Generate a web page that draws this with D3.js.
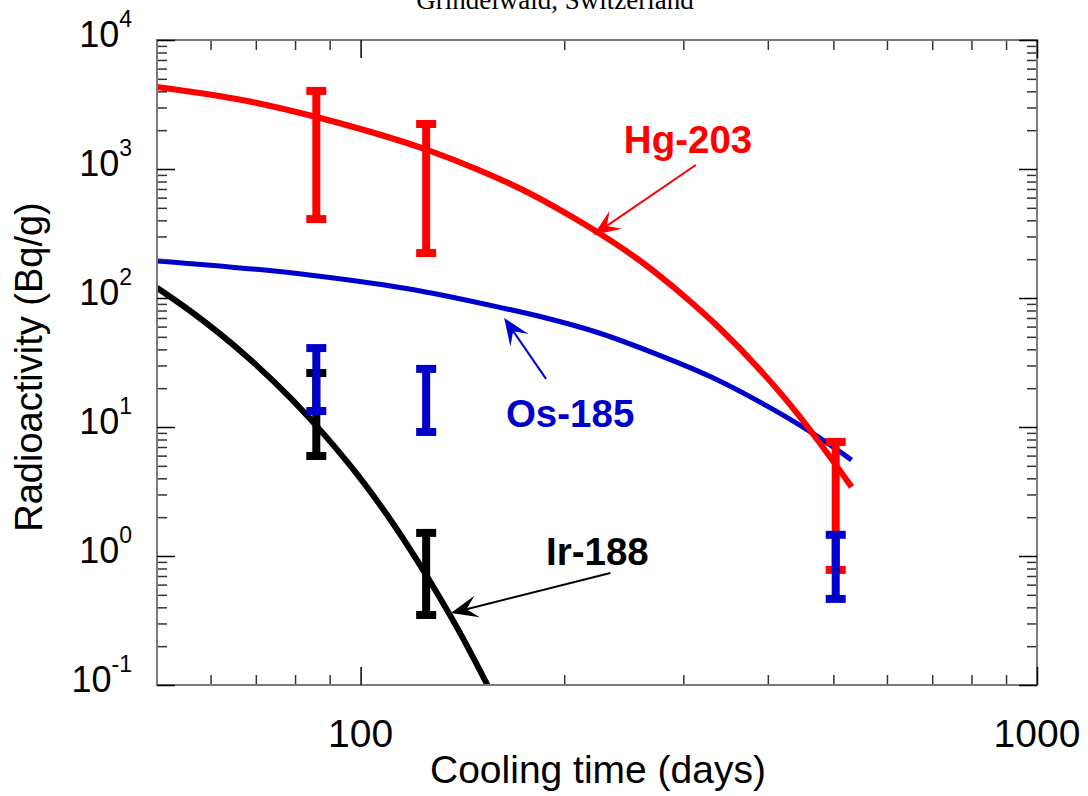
<!DOCTYPE html>
<html>
<head>
<meta charset="utf-8">
<script src="https://cdn.jsdelivr.net/npm/d3@7"></script>
<style>
    body { margin: 0; background: #fff; }
    svg { display: block; font-family: Arial, "Liberation Sans", Helvetica, sans-serif; }
</style>
</head>
<body>
<svg id="chart" width="1088" height="796"></svg>
<script>
// === DATA ===

const TITLE = 'Grindelwald, Switzerland';
const X_LABEL = 'Cooling time (days)';
const Y_LABEL = 'Radioactivity (Bq/g)';

const X_TICKS = [100, 1000];
const X_TICK_LABELS = ['100', '1000'];
const Y_TICKS = [0.1, 1, 10, 100, 1000, 10000];
const Y_TICK_EXPONENTS = ['-1', '0', '1', '2', '3', '4'];

// calculated decay curves
const HG_DAYS = [50, 68, 86, 100, 125.6, 149.5, 175, 198, 225, 258, 303, 338, 392, 445, 492, 532];
const HG_ACT  = [4330, 3365, 2530, 2042, 1403, 982, 675, 476, 319, 197, 100, 59.6, 26.7, 12.2, 6.07, 3.43];

const OS_DAYS = [50, 84, 121, 160, 188, 223, 269, 330, 392, 465, 532];
const OS_ACT  = [194, 151, 115, 85, 70, 54.5, 38.1, 24.4, 15.3, 9.0, 5.55];

const IR_DAYS = [50, 56, 68, 79, 89, 99, 111, 125, 140, 154];
const IR_ACT  = [120, 79.3, 34.9, 16.5, 8.35, 4.25, 1.87, 0.713, 0.258, 0.1];

// measured ranges (error bars)
const HG_BAR_DAYS = [86, 125, 504];
const HG_LOW  = [409, 223, 0.78];
const HG_HIGH = [4030, 2234, 7.66];

const IR_BAR_DAYS = [86, 125];
const IR_LOW  = [5.96, 0.349];
const IR_HIGH = [26.2, 1.51];

const OS_BAR_DAYS = [86, 125, 504];
const OS_LOW  = [13.3, 9.15, 0.465];
const OS_HIGH = [40.9, 28.2, 1.46];

// annotations (data coordinates)
const LABELS     = ['Hg-203', 'Os-185', 'Ir-188'];
const LABEL_AT   = [[245, 1331], [164, 10.0], [188, 0.851]];
const ARROW_FROM = [[313, 1074], [188, 23.6], [234, 0.738]];
const ARROW_TO   = [[221, 308], [163, 70], [136, 0.361]];

// === LAYOUT ===

const COLORS = { hg: '#ff0000', os: '#0000cc', ir: '#000000' };
const plot = { left: 157, right: 1037, top: 40, bottom: 685 };

const svg = d3.select('#chart');

const x = d3.scaleLog().domain([50, 1000]).range([plot.left, plot.right]);
const y = d3.scaleLog().domain([0.1, 10000]).range([plot.bottom, plot.top]);

// === TITLE ===

svg.append('text')
    .attr('x', 555)
    .attr('y', 9)
    .attr('text-anchor', 'middle')
    .style('font-family', '"Liberation Serif", "Times New Roman", serif')
    .style('font-size', '27px')
    .text(TITLE);

// === CURVES ===

svg.append('clipPath').attr('id', 'clip')
    .append('rect')
    .attr('x', plot.left).attr('y', plot.top)
    .attr('width', plot.right - plot.left)
    .attr('height', plot.bottom - plot.top);

const curves = svg.append('g').attr('clip-path', 'url(#clip)');

const line = d3.line()
    .x(d => x(d[0]))
    .y(d => y(d[1]))
    .curve(d3.curveMonotoneX);

[
    { days: IR_DAYS, act: IR_ACT, color: COLORS.ir, w: 6 },
    { days: OS_DAYS, act: OS_ACT, color: COLORS.os, w: 5 },
    { days: HG_DAYS, act: HG_ACT, color: COLORS.hg, w: 6 }
].forEach(s => {
    curves.append('path')
        .datum(d3.zip(s.days, s.act))
        .attr('d', line)
        .attr('fill', 'none')
        .attr('stroke', s.color)
        .attr('stroke-width', s.w);
});

// === ERROR BARS ===

function drawBars(days, low, high, color) {
    const g = svg.append('g').attr('fill', color);
    const rows = d3.zip(days, low, high);
    g.selectAll('.stem')
        .data(rows)
        .join('rect')
        .attr('x', d => x(d[0]) - 4)
        .attr('y', d => y(d[2]))
        .attr('width', 8)
        .attr('height', d => y(d[1]) - y(d[2]));
    g.selectAll('.cap')
        .data(rows.flatMap(d => [[d[0], d[1]], [d[0], d[2]]]))
        .join('rect')
        .attr('x', d => x(d[0]) - 10)
        .attr('y', d => y(d[1]) - 4)
        .attr('width', 20)
        .attr('height', 8);
}

drawBars(HG_BAR_DAYS, HG_LOW, HG_HIGH, COLORS.hg);
drawBars(IR_BAR_DAYS, IR_LOW, IR_HIGH, COLORS.ir);
drawBars(OS_BAR_DAYS, OS_LOW, OS_HIGH, COLORS.os);

// === AXES (ticks inside, on all four sides) ===

const majorY = Y_TICKS;
const minorY = y.ticks().filter(v => !majorY.includes(v));
const majorX = X_TICKS;
const minorX = x.ticks().filter(v => !majorX.includes(v) && v > 50);

function styleAxis(sel, color) {
    sel.select('.domain').remove();
    sel.selectAll('.tick text').remove();
    sel.selectAll('.tick line').attr('stroke', color).attr('stroke-width', 1.5);
}

svg.append('g').attr('transform', `translate(${plot.left},0)`)
    .call(d3.axisLeft(y).tickValues(minorY).tickSize(-10)).call(styleAxis, '#333');
svg.append('g').attr('transform', `translate(${plot.right},0)`)
    .call(d3.axisRight(y).tickValues(minorY).tickSize(-10)).call(styleAxis, '#333');
svg.append('g').attr('transform', `translate(0,${plot.bottom})`)
    .call(d3.axisBottom(x).tickValues(minorX).tickSize(-10)).call(styleAxis, '#333');
svg.append('g').attr('transform', `translate(0,${plot.top})`)
    .call(d3.axisTop(x).tickValues(minorX).tickSize(-10)).call(styleAxis, '#333');

// frame
svg.append('rect')
    .attr('x', plot.left).attr('y', plot.top)
    .attr('width', plot.right - plot.left)
    .attr('height', plot.bottom - plot.top)
    .attr('fill', 'none')
    .attr('stroke', '#7a7a7a')
    .attr('stroke-width', 2);

svg.append('g').attr('transform', `translate(${plot.left},0)`)
    .call(d3.axisLeft(y).tickValues(majorY).tickSize(-18)).call(styleAxis, '#000');
svg.append('g').attr('transform', `translate(${plot.right},0)`)
    .call(d3.axisRight(y).tickValues(majorY).tickSize(-18)).call(styleAxis, '#000');
svg.append('g').attr('transform', `translate(0,${plot.bottom})`)
    .call(d3.axisBottom(x).tickValues(majorX).tickSize(-18)).call(styleAxis, '#000');
svg.append('g').attr('transform', `translate(0,${plot.top})`)
    .call(d3.axisTop(x).tickValues(majorX).tickSize(-18)).call(styleAxis, '#000');

// y tick labels: 10 with superscript exponent
const yLabels = svg.append('g');
Y_TICKS.forEach((v, i) => {
    const t = yLabels.append('text')
        .attr('x', 132)
        .attr('y', y(v) + 7)
        .attr('text-anchor', 'end')
        .style('font-size', '36px');
    t.append('tspan').text('10');
    t.append('tspan')
        .attr('dy', -20)
        .style('font-size', '23px')
        .text(Y_TICK_EXPONENTS[i]);
});

// x tick labels
svg.append('g').selectAll('text')
    .data(X_TICKS)
    .join('text')
    .attr('x', d => x(d))
    .attr('y', 747)
    .attr('text-anchor', 'middle')
    .style('font-size', '39px')
    .text((d, i) => X_TICK_LABELS[i]);

// axis titles
svg.append('text')
    .attr('x', 598)
    .attr('y', 783)
    .attr('text-anchor', 'middle')
    .style('font-size', '39px')
    .text(X_LABEL);

svg.append('text')
    .attr('transform', 'translate(42,367) rotate(-90)')
    .attr('text-anchor', 'middle')
    .style('font-size', '38px')
    .text(Y_LABEL);

// === ANNOTATIONS ===

const labelColors = [COLORS.hg, COLORS.os, COLORS.ir];

LABELS.forEach((label, i) => {
    const c = labelColors[i];
    svg.append('text')
        .attr('x', x(LABEL_AT[i][0]))
        .attr('y', y(LABEL_AT[i][1]))
        .attr('fill', c)
        .style('font-size', '38.5px')
        .style('font-weight', 'bold')
        .text(label);

    const x0 = x(ARROW_FROM[i][0]), y0 = y(ARROW_FROM[i][1]);
    const x1 = x(ARROW_TO[i][0]), y1 = y(ARROW_TO[i][1]);
    const ang = Math.atan2(y1 - y0, x1 - x0);
    const notch = 16;

    svg.append('line')
        .attr('x1', x0).attr('y1', y0)
        .attr('x2', x1 - notch * Math.cos(ang))
        .attr('y2', y1 - notch * Math.sin(ang))
        .attr('stroke', c)
        .attr('stroke-width', 2);

    svg.append('path')
        .attr('d', `M0,0 L-27,-11 L-${notch},0 L-27,11 Z`)
        .attr('transform', `translate(${x1},${y1}) rotate(${ang * 180 / Math.PI})`)
        .attr('fill', c);
});
</script>
</body>
</html>
